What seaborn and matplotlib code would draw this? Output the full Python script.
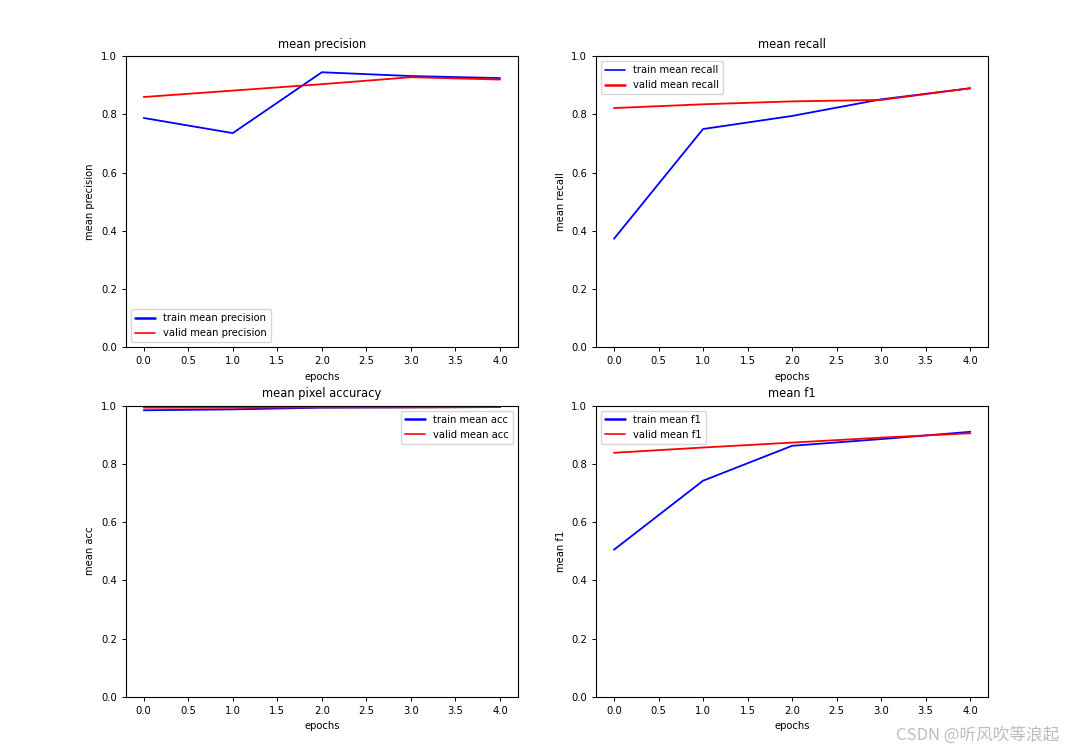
import matplotlib
matplotlib.use("Agg")
import matplotlib.pyplot as plt
import seaborn as sns
import pandas as pd

epochs = [0, 1, 2, 3, 4]
train_precision = [0.788, 0.736, 0.945, 0.932, 0.925]
valid_precision = [0.860, 0.882, 0.904, 0.928, 0.920]
train_recall = [0.373, 0.750, 0.795, 0.852, 0.890]
valid_recall = [0.822, 0.835, 0.845, 0.850, 0.890]
train_acc = [0.984, 0.987, 0.993, 0.994, 0.995]
valid_acc = [0.993, 0.993, 0.994, 0.994, 0.995]
train_f1 = [0.505, 0.742, 0.862, 0.885, 0.910]
valid_f1 = [0.838, 0.856, 0.873, 0.890, 0.905]

panels = [
    ("mean precision", "mean precision", train_precision, valid_precision,
     "train mean precision", "valid mean precision", "lower left", (1.8, 1.2)),
    ("mean recall", "mean recall", train_recall, valid_recall,
     "train mean recall", "valid mean recall", "upper left", (1.2, 1.8)),
    ("mean pixel accuracy", "mean acc", train_acc, valid_acc,
     "train mean acc", "valid mean acc", "upper right", (1.8, 1.2)),
    ("mean f1", "mean f1", train_f1, valid_f1,
     "train mean f1", "valid mean f1", "upper left", (1.8, 1.2)),
]

sns.set_style("ticks")
plt.rcParams["font.family"] = ["DejaVu Sans"]
plt.rcParams["font.size"] = 7.2
plt.rcParams["xtick.labelsize"] = 7.2
plt.rcParams["ytick.labelsize"] = 7.2
plt.rcParams["text.color"] = "black"
plt.rcParams["axes.labelcolor"] = "black"
plt.rcParams["xtick.color"] = "black"
plt.rcParams["ytick.color"] = "black"

fig, axes = plt.subplots(2, 2, figsize=(10.67, 7.5), dpi=100)
fig.subplots_adjust(left=0.118, right=0.926, top=0.925, bottom=0.071,
                    wspace=0.2, hspace=0.2)

for ax, (title, ylab, tr, va, trl, val, loc, lws) in zip(axes.flat, panels):
    df = pd.DataFrame({"epochs": epochs, "train": tr, "valid": va})
    sns.lineplot(data=df, x="epochs", y="train", ax=ax, color="blue",
                 linewidth=1.3, label=trl)
    sns.lineplot(data=df, x="epochs", y="valid", ax=ax, color="red",
                 linewidth=1.3, label=val)
    ax.set_ylim(0, 1.0)
    ax.set_xticks([0, 0.5, 1, 1.5, 2, 2.5, 3, 3.5, 4])
    ax.set_xticklabels(["0.0", "0.5", "1.0", "1.5", "2.0", "2.5", "3.0", "3.5", "4.0"])
    ax.set_yticks([0, 0.2, 0.4, 0.6, 0.8, 1.0])
    ax.set_yticklabels(["0.0", "0.2", "0.4", "0.6", "0.8", "1.0"])
    ax.set_title(title, fontsize=8.3, color="black")
    ax.set_xlabel("epochs", fontsize=7.2)
    ax.set_ylabel(ylab, fontsize=7.2)
    for s in ax.spines.values():
        s.set_visible(True)
        s.set_linewidth(0.8)
        s.set_color("black")
    ax.tick_params(length=3, width=0.7, colors="black")
    leg = ax.legend(loc=loc, fontsize=7.2, frameon=True, fancybox=True)
    for t in leg.get_texts():
        t.set_color("black")
    for h, lw in zip(leg.get_lines(), lws):
        h.set_linewidth(lw)

fig.text(0.993, 0.008, "CSDN @听风吹等浪起", ha="right", va="bottom",
         fontsize=12, color="#bdbdbd",
         family=["Noto Sans CJK SC", "DejaVu Sans"])

fig.savefig("out.png", dpi=100, facecolor="white")
